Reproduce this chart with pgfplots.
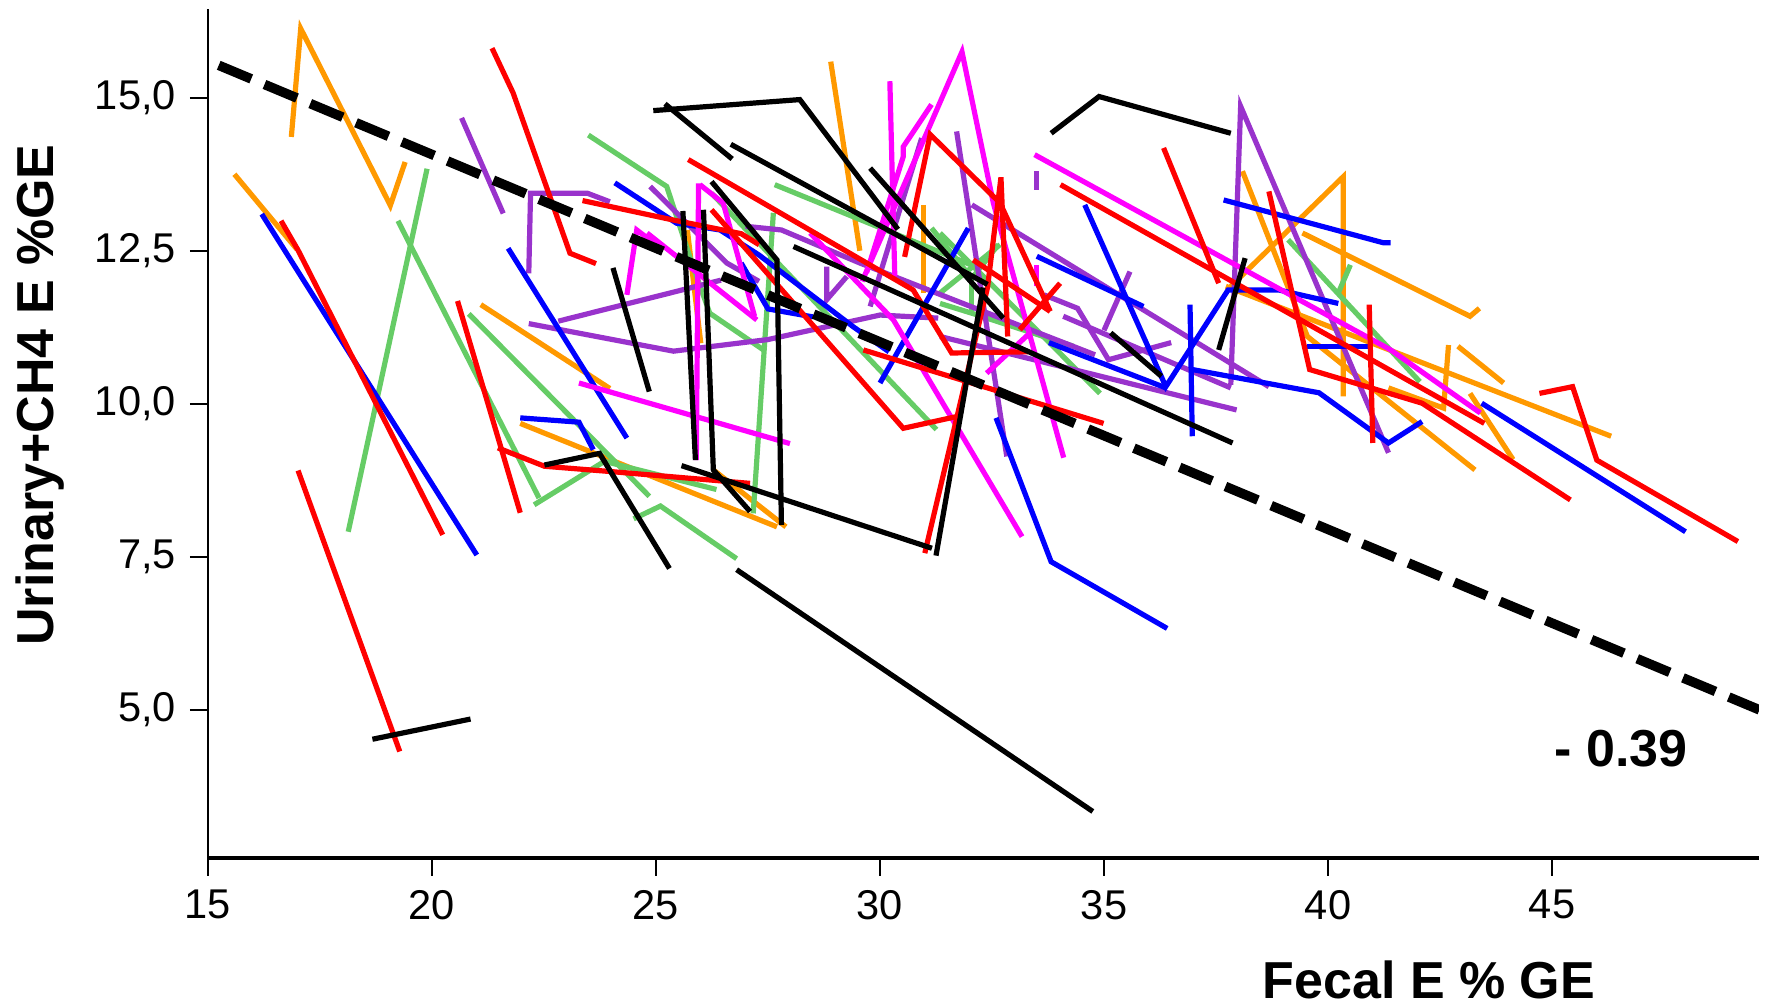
\documentclass[border=0pt]{standalone}
\usepackage{pgfplots}
\pgfplotsset{compat=1.18}
\usepackage{fontspec}
\setmainfont{Liberation Sans}
\definecolor{cR}{RGB}{255,0,0}
\definecolor{cB}{RGB}{0,0,255}
\definecolor{cG}{RGB}{102,204,102}
\definecolor{cO}{RGB}{255,153,0}
\definecolor{cM}{RGB}{255,0,255}
\definecolor{cP}{RGB}{153,51,204}
\begin{document}
\begin{tikzpicture}
\useasboundingbox (-52pt,-37pt) rectangle (390.75pt,214.5pt);
\begin{axis}[
  at={(0,0)}, anchor=south west,
  scale only axis, width=387.75pt, height=212.25pt,
  xmin=15, xmax=49.62, ymin=2.58, ymax=16.45,
  axis x line*=bottom, axis y line*=left,
  x axis line style={line width=1.2pt,-},
  y axis line style={line width=0.6pt,-},
  xtick={15,20,25,30,35,40,45},
  ytick={5,7.5,10,12.5,15},
  yticklabels={{5,0},{7,5},{10,0},{12,5},{15,0}},
  tick align=outside, major tick length=4.5pt,
  tick style={line width=0.6pt,black},
  ticklabel style={font=\fontsize{10.4}{12}\selectfont},
  /pgf/number format/assume math mode=true,
  xlabel={Fecal E \% GE},
  ylabel={Urinary+CH4 E \%GE},
  label style={font=\bfseries\fontsize{13}{15}\selectfont},
  xlabel style={at={(axis description cs:0.7872,-0.1437)},anchor=center},
  ylabel style={at={(axis description cs:-0.1083,0.5453)},anchor=center},
  every axis plot/.append style={line width=1.3pt, line join=miter, mark=none},
]
% ---------- orange
\addplot[cO] coordinates {(16.86,14.36)(17.07,16.13)(19.07,13.24)(19.40,13.95)};
\addplot[cO] coordinates {(15.59,13.75)(16.99,12.52)};
\addplot[cO] coordinates {(21.09,11.62)(23.97,10.25)};
\addplot[cO] coordinates {(21.97,9.68)(27.7,7.99)};
\addplot[cO] coordinates {(25.7,12.84)(26.0,10.99)};
\addplot[cO] coordinates {(26.28,8.92)(27.9,7.99)};
\addplot[cO] coordinates {(28.9,15.59)(29.55,12.5)};
\addplot[cO] coordinates {(30.97,13.25)(30.97,11.81)};
\addplot[cO] coordinates {(38.09,13.8)(39.54,11.1)(43.28,8.92)};
\addplot[cO] coordinates {(37.83,11.92)(40.34,13.71)(40.34,10.12)};
\addplot[cO] coordinates {(39.43,12.79)(43.17,11.43)(43.38,11.56)};
\addplot[cO] coordinates {(37.72,11.92)(46.32,9.47)};
\addplot[cO] coordinates {(41.35,10.26)(42.58,9.93)(42.69,10.96)};
\addplot[cO] coordinates {(42.9,10.94)(43.92,10.34)};
\addplot[cO] coordinates {(43.17,10.17)(44.13,9.09)};
% ---------- green
\addplot[cG] coordinates {(19.89,13.84)(18.13,7.91)};
\addplot[cG] coordinates {(19.24,12.99)(22.39,8.46)};
\addplot[cG] coordinates {(22.28,8.35)(23.85,9.06)(26.35,8.6)};
\addplot[cG] coordinates {(20.82,11.47)(24.85,8.49)};
\addplot[cG] coordinates {(24.5,8.12)(25.1,8.33)(26.8,7.47)};
\addplot[cG] coordinates {(23.49,14.39)(25.24,13.55)(25.8,12.3)(26.2,11.48)(27.4,10.88)};
\addplot[cG] coordinates {(27.62,13.12)(27.17,8.21)};
\addplot[cG] coordinates {(27.65,13.58)(32.1,12.25)};
\addplot[cG] coordinates {(26.24,13.44)(31.26,9.58)};
\addplot[cG] coordinates {(31.15,12.87)(32.05,12.05)(32.64,12.6)};
\addplot[cG] coordinates {(32.05,12.05)(32.05,11.48)};
\addplot[cG] coordinates {(31.34,11.64)(32.05,11.48)(34.32,10.94)};
\addplot[cG] coordinates {(32.68,12.6)(31.34,11.81)};
\addplot[cG] coordinates {(31.34,12.79)(34.91,10.17)};
\addplot[cG] coordinates {(39.11,12.68)(42.05,10.36)};
\addplot[cG] coordinates {(40.5,12.27)(40.23,11.81)};
% ---------- purple
\addplot[cP] coordinates {(20.66,14.67)(21.59,13.11)};
\addplot[cP] coordinates {(22.16,12.13)(22.2,13.44)(23.47,13.44)(23.97,13.30)};
\addplot[cP] coordinates {(22.16,11.31)(25.39,10.86)(27.5,11.05)(30.0,11.45)(31.3,11.4)};
\addplot[cP] coordinates {(22.82,11.35)(26.45,12.02)};
\addplot[cP] coordinates {(24.87,13.55)(26.58,12.3)(27.3,12.0)};
\addplot[cP] coordinates {(27.0,12.9)(27.8,12.84)(29.55,12.3)(32.2,11.54)(34.8,10.8)};
\addplot[cP] coordinates {(31.71,14.45)(32.83,9.14)};
\addplot[cP] coordinates {(30.93,14.34)(29.78,11.59)};
\addplot[cP] coordinates {(28.81,12.24)(28.81,11.7)(29.26,12.08)};
\addplot[cP] coordinates {(33.5,13.5)(33.5,13.8)};
\addplot[cP] coordinates {(32.05,13.25)(38.68,10.28)};
\addplot[cP] coordinates {(33.66,11.78)(34.41,11.56)(35.1,10.72)(36.5,11.0)};
\addplot[cP] coordinates {(35.0,11.2)(35.58,12.16)};
\addplot[cP] coordinates {(31.34,11.1)(37.96,9.9)};
\addplot[cP] coordinates {(34.09,11.43)(37.83,10.26)};
\addplot[cP] coordinates {(37.83,10.31)(38.05,14.86)(41.35,9.2)};
% ---------- blue
\addplot[cB] coordinates {(16.2,13.1)(21.0,7.53)};
\addplot[cB] coordinates {(21.70,12.54)(24.35,9.44)};
\addplot[cB] coordinates {(21.97,9.77)(23.28,9.7)(23.6,9.25)};
\addplot[cB] coordinates {(24.08,13.61)(25.46,12.95)(26.43,12.84)(27.3,12.43)(29.4,11.26)(30.2,10.85)};
\addplot[cB] coordinates {(26.9,12.3)(27.5,11.55)(28.5,11.42)};
\addplot[cB] coordinates {(31.97,12.87)(30.0,10.34)};
\addplot[cB] coordinates {(32.59,9.77)(33.82,7.42)(36.41,6.33)};
\addplot[cB] coordinates {(33.5,12.41)(35.88,11.59)};
\addplot[cB] coordinates {(34.57,13.25)(36.38,10.28)(37.77,11.86)(38.9,11.86)(40.23,11.64)};
\addplot[cB] coordinates {(33.77,11.0)(36.38,10.26)};
\addplot[cB] coordinates {(36.92,11.62)(36.97,9.47)};
\addplot[cB] coordinates {(36.97,10.56)(39.8,10.18)(41.35,9.36)(42.1,9.71)};
\addplot[cB] coordinates {(37.67,13.33)(41.24,12.63)(41.4,12.63)};
\addplot[cB] coordinates {(39.54,10.94)(40.98,10.94)};
\addplot[cB] coordinates {(43.43,10.01)(47.98,7.91)};
% ---------- magenta
\addplot[cM] coordinates {(23.28,10.34)(27.99,9.35)};
\addplot[cM] coordinates {(24.35,11.78)(24.57,12.84)(25.0,12.6)};
\addplot[cM] coordinates {(24.8,12.79)(27.25,11.37)};
\addplot[cM] coordinates {(25.95,13.6)(25.9,9.08)};
\addplot[cM] coordinates {(25.98,13.58)(26.5,13.28)(27.2,11.43)};
\addplot[cM] coordinates {(28.44,12.79)(30.3,11.37)(33.17,7.83)};
\addplot[cM] coordinates {(30.22,15.27)(30.33,12.08)};
\addplot[cM] coordinates {(31.15,14.89)(30.52,14.2)(30.52,14.04)(29.7,12.14)};
\addplot[cM] coordinates {(29.6,12.0)(31.83,15.75)(32.53,13.28)(34.1,9.12)};
\addplot[cM] coordinates {(33.35,11.16)(32.38,10.5)};
\addplot[cM] coordinates {(33.5,11.92)(33.5,12.27)};
\addplot[cM] coordinates {(33.45,14.07)(41.4,10.88)(43.4,9.85)};
% ---------- red
\addplot[cR] coordinates {(16.63,12.99)(17.01,12.51)(20.24,7.86)};
\addplot[cR] coordinates {(17.01,8.91)(19.28,4.32)};
\addplot[cR] coordinates {(21.34,15.81)(21.81,15.08)(23.08,12.46)(23.66,12.29)};
\addplot[cR] coordinates {(20.57,11.68)(21.97,8.22)};
\addplot[cR] coordinates {(21.47,9.28)(22.51,8.98)(24.04,8.89)(27.1,8.70)};
\addplot[cR] coordinates {(23.36,13.32)(25.4,13.0)(26.9,12.78)(27.3,12.6)};
\addplot[cR] coordinates {(25.72,13.99)(30.74,11.86)(31.6,10.83)(33.3,10.85)};
\addplot[cR] coordinates {(26.24,13.17)(30.52,9.6)(31.7,9.79)};
\addplot[cR] coordinates {(31.0,7.56)(32.4,11.9)(32.7,13.7)(32.85,11.1)};
\addplot[cR] coordinates {(30.55,12.4)(31.12,14.4)(32.68,13.28)(33.8,11.51)};
\addplot[cR] coordinates {(32.08,12.35)(33.8,11.51)};
\addplot[cR] coordinates {(34.02,11.97)(33.12,11.21)};
\addplot[cR] coordinates {(29.63,10.88)(34.99,9.68)};
\addplot[cR] coordinates {(34.03,13.58)(43.49,9.68)};
\addplot[cR] coordinates {(36.33,14.18)(37.56,11.97)};
\addplot[cR] coordinates {(38.68,13.47)(39.59,10.56)(42.1,10.01)(45.41,8.43)};
\addplot[cR] coordinates {(40.92,11.62)(41.0,9.36)};
\addplot[cR] coordinates {(44.72,10.17)(45.46,10.28)(46.0,9.08)(49.15,7.75)};
% ---------- black
\addplot[black] coordinates {(18.67,4.52)(20.86,4.85)};
\addplot[black] coordinates {(22.51,9.0)(23.74,9.19)(25.3,7.31)};
\addplot[black] coordinates {(24.04,12.22)(24.85,10.2)};
\addplot[black] coordinates {(24.94,14.79)(28.21,14.97)(30.4,12.85)};
\addplot[black] coordinates {(25.2,14.9)(26.7,14.0)};
\addplot[black] coordinates {(26.67,14.24)(32.4,11.95)};
\addplot[black] coordinates {(29.78,13.85)(32.75,11.40)};
\addplot[black] coordinates {(28.07,12.57)(37.87,9.36)};
\addplot[black] coordinates {(26.24,13.63)(27.7,12.35)(27.8,8.02)};
\addplot[black] coordinates {(26.06,13.17)(26.28,8.92)(27.1,8.24)};
\addplot[black] coordinates {(25.6,13.15)(25.88,9.08)};
\addplot[black] coordinates {(25.57,8.99)(31.16,7.64)};
\addplot[black] coordinates {(32.3,11.9)(31.25,7.52)};
\addplot[black] coordinates {(26.8,7.29)(34.75,3.34)};
\addplot[black] coordinates {(33.82,14.42)(34.89,15.02)(37.83,14.42)};
\addplot[black] coordinates {(38.15,12.38)(37.56,10.88)};
\addplot[black] coordinates {(35.15,11.16)(36.28,10.45)};
% ---------- regression
\addplot[black, line width=2.4pt, dash pattern=on 8.8pt off 3.6pt, line cap=butt] coordinates {(15.24,15.53)(49.63,5.0)};
\node[font=\bfseries\fontsize{13}{15}\selectfont] at (axis cs:46.54,4.37) {- 0.39};
\end{axis}
\end{tikzpicture}
\end{document}
